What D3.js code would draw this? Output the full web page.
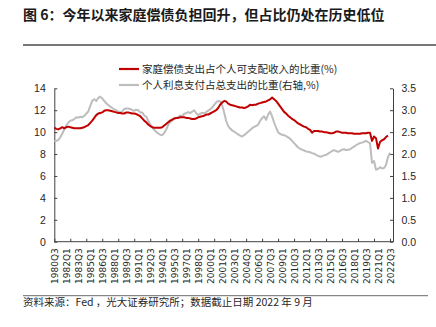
<!DOCTYPE html>
<html>
<head>
<meta charset="utf-8">
<script src="https://cdn.jsdelivr.net/npm/d3@7"></script>
<style>
  body { margin: 0; background: #fff; }
  svg { display: block; }
</style>
</head>
<body>
<svg id="chart" width="436" height="327"></svg>
<script>
// Quarterly categories, 1980Q3 through 2022Q3
const quarters = [];
for (let y = 1980; y <= 2022; y++) {
  for (let q = 1; q <= 4; q++) {
    if (y === 1980 && q < 3) continue;
    if (y === 2022 && q > 3) continue;
    quarters.push(y + "Q" + q);
  }
}

// Household debt service payments as % of disposable personal income (left axis)
const debtServiceRatio = [
  10.4, 10.3, 10.25, 10.35, 10.45, 10.35, 10.45, 10.5, 10.45, 10.4,
  10.35, 10.35, 10.35, 10.35, 10.4, 10.45, 10.55, 10.65, 10.85, 11.05,
  11.3, 11.55, 11.7, 11.75, 11.8, 11.95, 12.0, 12.0, 11.95, 11.9,
  11.85, 11.8, 11.75, 11.75, 11.7, 11.7, 11.8, 11.8, 11.75, 11.7,
  11.7, 11.65, 11.55, 11.45, 11.25, 11.05, 10.9, 10.7, 10.55, 10.45,
  10.4, 10.4, 10.4, 10.4, 10.45, 10.6, 10.75, 10.9, 11.05, 11.15,
  11.25, 11.3, 11.3, 11.35, 11.35, 11.35, 11.3, 11.3, 11.25, 11.2,
  11.2, 11.25, 11.35, 11.4, 11.45, 11.5, 11.6, 11.6, 11.7, 11.8,
  11.9, 12.0, 12.2, 12.5, 12.7, 12.85, 12.8, 12.6, 12.5, 12.45,
  12.4, 12.35, 12.3, 12.25, 12.25, 12.2, 12.25, 12.35, 12.5, 12.45,
  12.5, 12.5, 12.6, 12.65, 12.7, 12.75, 12.8, 12.9, 13.0, 13.15,
  13.0, 12.85, 12.6, 12.35, 12.1, 11.85, 11.7, 11.5, 11.35, 11.2,
  11.1, 10.95, 10.8, 10.7, 10.6, 10.5, 10.45, 10.3, 10.2, 9.95,
  10.1, 10.1, 10.1, 10.05, 10.05, 10.0, 10.0, 9.95, 9.9, 9.9,
  9.95, 10.05, 10.05, 10.0, 9.95, 9.95, 9.95, 9.9, 9.9, 9.9,
  9.85, 9.85, 9.85, 9.85, 9.9, 9.9, 9.9, 9.95, 9.95, 9.2,
  9.6, 9.45, 8.5, 9.1, 9.25, 9.35, 9.55, 9.7
];

// Personal interest payments as % of total outlays (right axis)
const interestShare = [
  2.30, 2.30, 2.32, 2.38, 2.47, 2.56, 2.65, 2.72, 2.76, 2.77,
  2.80, 2.84, 2.83, 2.85, 2.84, 2.87, 2.92, 2.97, 3.10, 3.22,
  3.25, 3.21, 3.28, 3.31, 3.27, 3.21, 3.16, 3.12, 3.08, 3.05,
  3.02, 3.00, 2.97, 2.95, 2.97, 3.03, 3.04, 3.04, 3.03, 3.00,
  2.99, 3.01, 3.00, 2.95, 2.95, 2.88, 2.85, 2.76, 2.68, 2.62,
  2.55, 2.51, 2.47, 2.44, 2.43, 2.48, 2.56, 2.66, 2.73, 2.76,
  2.80, 2.82, 2.84, 2.88, 2.86, 2.92, 2.93, 2.96, 2.93, 2.97,
  3.00, 2.93, 2.89, 2.92, 2.94, 2.93, 2.96, 2.99, 3.02, 3.06,
  3.12, 3.18, 3.21, 3.20, 3.12, 2.95, 2.76, 2.64, 2.58, 2.54,
  2.51, 2.48, 2.45, 2.42, 2.40, 2.43, 2.47, 2.51, 2.55, 2.59,
  2.62, 2.64, 2.67, 2.76, 2.82, 2.86, 2.78, 2.90, 2.97, 2.86,
  2.72, 2.60, 2.50, 2.46, 2.44, 2.43, 2.41, 2.38, 2.35, 2.30,
  2.25, 2.20, 2.15, 2.12, 2.10, 2.08, 2.06, 2.05, 2.04, 2.02,
  2.01, 1.98, 1.96, 1.94, 1.95, 1.97, 1.98, 2.01, 2.04, 2.07,
  2.09, 2.07, 2.05, 2.07, 2.10, 2.11, 2.09, 2.10, 2.11, 2.14,
  2.17, 2.20, 2.23, 2.25, 2.26, 2.28, 2.30, 2.27, 2.25, 1.80,
  1.84, 1.64, 1.66, 1.70, 1.67, 1.68, 1.75, 1.93, 2.03
];

const leftTicks = [0, 2, 4, 6, 8, 10, 12, 14];
const rightTicks = [0, 0.5, 1.0, 1.5, 2.0, 2.5, 3.0, 3.5];
const labelEvery = 6;   // one label per six quarters
const markEvery = 8;    // one tick mark per eight quarters

const titleText = "图 6：今年以来家庭偿债负担回升，但占比仍处在历史低位";
const seriesNames = ["家庭偿债支出占个人可支配收入的比重(%)", "个人利息支付占总支出的比重(右轴,%)"];
const sourceText = "资料来源：Fed ，光大证券研究所；数据截止日期 2022 年 9 月";

const RED = "#C00000";
const GREY = "#BDBDBD";
const AXIS = "#404040";
const CJK = "'Noto Sans CJK SC', 'Noto Sans', sans-serif";
const NUM = "'Liberation Sans', Arial, sans-serif";

const svg = d3.select("#chart");
const plot = { left: 54.3, right: 393, top: 88.3, bottom: 241.7 };

const x = d3.scaleLinear().domain([0, quarters.length + 0.5]).range([plot.left, plot.right]);
const yL = d3.scaleLinear().domain([0, 14]).range([plot.bottom, plot.top]);
const yR = d3.scaleLinear().domain([0, 3.5]).range([plot.bottom, plot.top]);

// Title and rule beneath it
svg.append("text")
  .attr("x", 23).attr("y", 19.5)
  .attr("font-family", CJK).attr("font-size", 14).attr("font-weight", "bold")
  .attr("fill", "#1a1a1a")
  .text(titleText);
svg.append("line")
  .attr("x1", 23).attr("x2", 436).attr("y1", 45).attr("y2", 45)
  .attr("stroke", "#4a4a4a").attr("stroke-width", 1.4);

// Legend
const legend = svg.append("g");
[[RED, seriesNames[0], 69], [GREY, seriesNames[1], 85]].forEach(([c, t, ly]) => {
  legend.append("line")
    .attr("x1", 119).attr("x2", 139).attr("y1", ly).attr("y2", ly)
    .attr("stroke", c).attr("stroke-width", 2.2);
  legend.append("text")
    .attr("x", 142).attr("y", ly + 4)
    .attr("font-family", CJK).attr("font-size", 10.5).attr("fill", "#262626")
    .text(t);
});

// Axes
const axisStyle = g => {
  g.select(".domain").attr("stroke", AXIS);
  g.selectAll(".tick line").attr("stroke", AXIS);
  g.selectAll("text").attr("fill", "#262626");
};

svg.append("g")
  .attr("transform", `translate(${plot.left},0)`)
  .call(d3.axisLeft(yL).tickValues(leftTicks).tickFormat(d3.format("d"))
    .tickSize(-3).tickSizeOuter(0).tickPadding(8.5))
  .call(g => g.attr("font-family", NUM).attr("font-size", 10.5))
  .call(axisStyle);

svg.append("g")
  .attr("transform", `translate(${plot.right},0)`)
  .call(d3.axisRight(yR).tickValues(rightTicks).tickFormat(d3.format(".1f"))
    .tickSize(-3).tickSizeOuter(0).tickPadding(8.5))
  .call(g => g.attr("font-family", NUM).attr("font-size", 10.5))
  .call(axisStyle);

// Category axis: tick marks every eight quarters
svg.append("g")
  .attr("transform", `translate(0,${plot.bottom})`)
  .call(d3.axisBottom(x)
    .tickValues(d3.range(0, quarters.length, markEvery))
    .tickFormat("").tickSize(-3).tickSizeOuter(0))
  .call(g => g.select(".domain").attr("d", `M${plot.left},0H${plot.right}`))
  .call(axisStyle);

// Category labels every six quarters, rotated
svg.append("g")
  .attr("transform", `translate(0,${plot.bottom})`)
  .call(d3.axisBottom(x)
    .tickValues(d3.range(0, quarters.length, labelEvery))
    .tickFormat(i => quarters[i]).tickSize(0))
  .call(g => g.select(".domain").remove())
  .call(g => g.selectAll("text")
    .attr("transform", "rotate(-90)")
    .attr("x", -6.6).attr("y", 0).attr("dy", "0.36em")
    .attr("font-family", "'DejaVu Sans', sans-serif").attr("font-size", 9)
    .attr("fill", "#262626")
    .style("text-anchor", "end"));

// Series lines
const lineR = d3.line().x((d, i) => x(i)).y(d => yR(d));
const lineL = d3.line().x((d, i) => x(i)).y(d => yL(d));

svg.append("path")
  .datum(interestShare)
  .attr("d", lineR)
  .attr("fill", "none").attr("stroke", GREY).attr("stroke-width", 2)
  .attr("stroke-linejoin", "round");

svg.append("path")
  .datum(debtServiceRatio)
  .attr("d", lineL)
  .attr("fill", "none").attr("stroke", RED).attr("stroke-width", 2)
  .attr("stroke-linejoin", "round");

// Source note
svg.append("line")
  .attr("x1", 23).attr("x2", 428).attr("y1", 295.7).attr("y2", 295.7)
  .attr("stroke", "#6a6a6a").attr("stroke-width", 1);
svg.append("text")
  .attr("x", 23).attr("y", 305.8)
  .attr("font-family", CJK).attr("font-size", 10.5).attr("fill", "#262626")
  .text(sourceText);
</script>
</body>
</html>
